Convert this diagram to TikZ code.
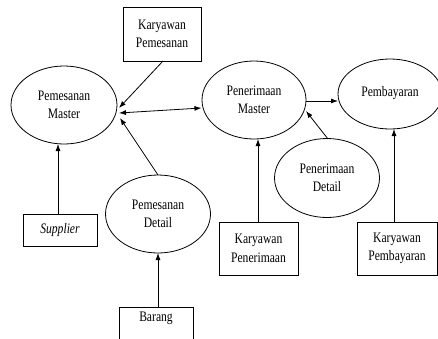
\documentclass[tikz,border=0pt]{standalone}
\usepackage{fontspec}
\setmainfont[FakeStretch=0.8]{Liberation Serif}
\usetikzlibrary{arrows.meta,shapes.geometric}
\begin{document}
\begin{tikzpicture}[x=1pt,y=-1pt,
  ent/.style={draw,ellipse,inner sep=0pt,align=center,font=\fontsize{14.5}{18.5}\selectfont,line width=0.8pt},
  boxe/.style={draw,rectangle,inner sep=0pt,align=center,font=\fontsize{14.5}{18.5}\selectfont,line width=0.8pt},
  arr/.style={-{Latex[length=7pt,width=5pt]},line width=0.8pt}]
\useasboundingbox (0,0) rectangle (438,338);
% entities
\node[ent,minimum width=106pt,minimum height=78pt] (pm) at (64,105) {Pemesanan\\Master};
\node[ent,minimum width=104pt,minimum height=78pt] (penm) at (254,100) {Penerimaan\\Master};
\node[ent,minimum width=104pt,minimum height=70pt] (pemb) at (390,94) {\raisebox{5pt}{Pembayaran}};
\node[ent,minimum width=105pt,minimum height=78pt] (pd) at (158,214) {Pemesanan\\Detail};
\node[ent,minimum width=105pt,minimum height=79pt] (pend) at (327,178) {Penerimaan\\Detail};
% boxes
\node[boxe,minimum width=78pt,minimum height=54pt] (kpes) at (162,34) {Karyawan\\Pemesanan};
\node[boxe,minimum width=74pt,minimum height=32pt] (sup) at (60,230) {\itshape Supplier};
\node[boxe,minimum width=74pt,minimum height=44pt] (bar) at (156,329) {\raisebox{-3pt}{Barang}\\[10pt]\mbox{}};
\node[boxe,minimum width=79pt,minimum height=53pt] (kpen) at (258.5,248.5) {Karyawan\\Penerimaan};
\node[boxe,minimum width=80pt,minimum height=53pt] (kpem) at (397,248.5) {Karyawan\\Pembayaran};
% connector end points
\coordinate (t1) at (119,108);
\coordinate (t2a) at (119,113);
\coordinate (t2b) at (201.5,108);
\coordinate (t3) at (120,118);
\coordinate (s1) at (163,61);
\coordinate (s3) at (158,175);
\coordinate (s4) at (58,214);
\coordinate (t4) at (58,144);
\coordinate (s5) at (158,307);
\coordinate (t5) at (158,253);
\coordinate (s6) at (258,222);
\coordinate (t6) at (258,139);
\coordinate (s7) at (394,222);
\coordinate (t7) at (394,129);
\coordinate (s8) at (306,101);
\coordinate (t8) at (338,101);
\coordinate (s9) at (328,139);
\coordinate (t9) at (306,111);
% connectors
\draw[arr] (s1) -- (t1);
\draw[{Latex[length=7pt,width=5pt]}-{Latex[length=7pt,width=5pt]},line width=0.8pt] (t2a) -- (t2b);
\draw[arr] (s3) -- (t3);
\draw[arr] (s4) -- (t4);
\draw[arr] (s5) -- (t5);
\draw[arr] (s6) -- (t6);
\draw[arr] (s7) -- (t7);
\draw[arr] (s8) -- (t8);
\draw[arr] (s9) -- (t9);
\end{tikzpicture}
\end{document}
